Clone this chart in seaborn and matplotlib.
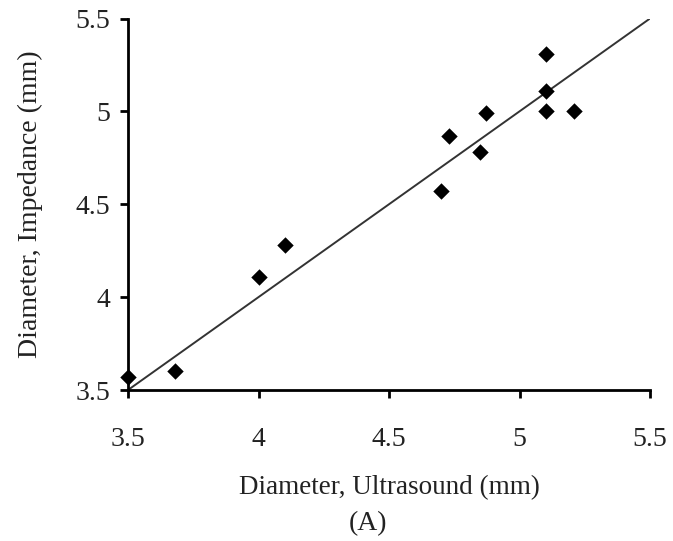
import matplotlib
matplotlib.use("Agg")
import matplotlib.pyplot as plt
import seaborn as sns
import pandas as pd

# Data
ultrasound = [3.50, 3.68, 4.00, 4.10, 4.70, 4.73, 4.85, 4.87, 5.10, 5.10, 5.10, 5.21]
impedance = [3.57, 3.60, 4.11, 4.28, 4.57, 4.87, 4.78, 4.99, 5.31, 5.11, 5.00, 5.00]
line_x = [3.5, 5.5]
line_y = [3.5, 5.5]
ticks = [3.5, 4, 4.5, 5, 5.5]
tick_labels = ["3.5", "4", "4.5", "5", "5.5"]

sns.set_theme(style="ticks")
plt.rcParams['font.family'] = ['Liberation Serif', 'DejaVu Serif']

df = pd.DataFrame({"us": ultrasound, "imp": impedance})
ldf = pd.DataFrame({"x": line_x, "y": line_y})

fig = plt.figure(figsize=(6.73, 5.41), dpi=100)
ax = fig.add_axes([128/673, 1-390/541, (650-128)/673, (390-18.5)/541])

sns.lineplot(data=ldf, x="x", y="y", ax=ax, color="#333333", linewidth=1.4)
sns.scatterplot(data=df, x="us", y="imp", ax=ax, marker="D", s=70,
                color="black", edgecolor="black", linewidth=0, zorder=3,
                clip_on=False)

ax.set_xlim(3.5, 5.5)
ax.set_ylim(3.5, 5.5)
ax.set_xticks(ticks)
ax.set_xticklabels(tick_labels)
ax.set_yticks(ticks)
ax.set_yticklabels(tick_labels)
sns.despine(ax=ax)
for s in ["left", "bottom"]:
    ax.spines[s].set_linewidth(2)
    ax.spines[s].set_color("black")
ax.tick_params(axis="both", direction="out", length=6, width=2, colors="black",
               labelsize=20, labelcolor="#222222")
ax.tick_params(axis="x", pad=20.5)
ax.tick_params(axis="y", pad=7)

ax.set_xlabel("Diameter, Ultrasound (mm)", fontsize=19.5, color="#222222", labelpad=16.5)
ax.set_ylabel("Diameter, Impedance (mm)", fontsize=20, color="#222222", labelpad=23)
fig.text(368/673, 1-524/541, "(A)", fontsize=20, color="#222222",
         ha="center", va="center")

fig.savefig("out.png", dpi=100, facecolor="white")
